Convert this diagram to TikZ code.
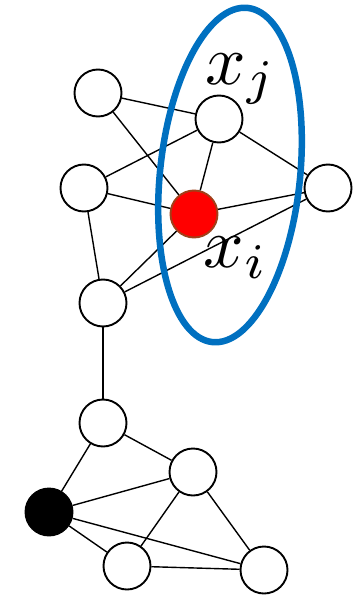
\documentclass[tikz,border=0pt]{standalone}
\usepackage{amsmath,amssymb,graphicx}
\usepackage{tikz}
\definecolor{ringblue}{HTML}{0070C0}
\definecolor{rimbrown}{HTML}{A0401A}
\newcommand{\biglbl}[1]{\scalebox{7.1}{$#1$}}
\begin{document}
\begin{tikzpicture}[x=1pt,y=-1pt,
    vtx/.style={circle,draw,line width=1.9pt,fill=white,minimum size=47pt,inner sep=0pt},
    lbl/.style={inner sep=0pt}]
  \useasboundingbox (0,0) rectangle (355,599);
  % upper cluster
  \node[vtx] (a) at (98,93) {};
  \node[vtx] (b) at (219,119) {};
  \node[vtx] (c) at (84,188) {};
  \node[vtx] (d) at (328,188) {};
  \node[vtx,fill=red,draw=rimbrown] (e) at (194,214) {};
  \node[vtx] (f) at (103,303) {};
  % lower cluster
  \node[vtx] (g) at (103,423) {};
  \node[vtx] (h) at (193,472) {};
  \node[vtx,fill=black] (k) at (49,512) {};
  \node[vtx] (m) at (127,566) {};
  \node[vtx] (n) at (264,570) {};
  \foreach \u/\v in {a/e,a/b,b/c,b/e,b/d,c/e,c/f,f/e,f/d,e/d,f/g,
                     g/k,g/h,k/h,k/n,k/m,m/h,m/n,h/n}
    \draw[line width=1.4pt] (\u) -- (\v);
  \draw[ringblue,line width=6.5pt] (230,175) ellipse [x radius=70,y radius=168,rotate=-6];
  \node[lbl] (xj) at (241,79) {\biglbl{x_j}};
  \node[lbl] (xi) at (236,258) {\biglbl{x_i}};
\end{tikzpicture}
\end{document}
